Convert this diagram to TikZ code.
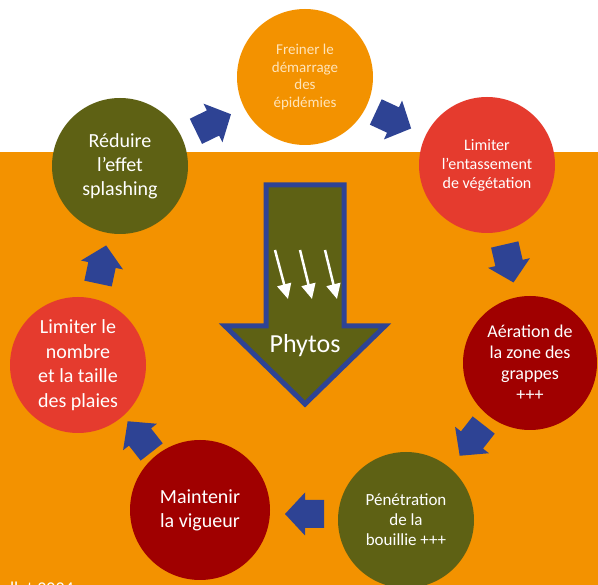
\documentclass[tikz,border=0pt]{standalone}
\usepackage{fontspec}
\setmainfont{Carlito}
\usetikzlibrary{arrows.meta}
\definecolor{orbg}{RGB}{243,146,0}
\definecolor{redc}{RGB}{229,59,46}
\definecolor{darkred}{RGB}{160,0,0}
\definecolor{olive}{RGB}{94,97,20}
\definecolor{blueA}{RGB}{46,67,148}
\definecolor{cream}{RGB}{255,228,185}
\tikzset{
  stepcirc/.style={circle, minimum size=136pt, inner sep=0pt, align=center, text=white},
  blockarrow/.pic={\fill[blueA] (20,0) -- (0,21.5) -- (0,14) -- (-19,14) -- (-19,-14) -- (0,-14) -- (0,-21.5) -- cycle;},
  rainarrow/.style={white, line width=2.5pt, -{Triangle[width=14pt,length=15pt]}}
}
\begin{document}
\begin{tikzpicture}[x=1pt,y=-1pt]
\clip (0,0) rectangle (598,585);
\fill[white] (0,0) rectangle (598,152);
\fill[orbg] (0,152) rectangle (598,585);

% circles
\node[stepcirc, fill=orbg, text=cream, font=\fontsize{15}{17.5}\selectfont] (c1) at (305,77) {Freiner le\\démarrage\\des\\épidémies};
\node[stepcirc, fill=redc, font=\fontsize{16}{19}\selectfont] (c2) at (487,165) {Limiter\\l’entassement\\de végétation};
\node[stepcirc, minimum size=134pt, fill=darkred, font=\fontsize{18}{21}\selectfont] (c3) at (530,363) {Aération de\\la zone des\\grappes\\+++};
\node[stepcirc, fill=olive, font=\fontsize{17}{20}\selectfont] (c4) at (406,520) {Pénétration\\de la\\bouillie +++};
\node[stepcirc, minimum size=140pt, fill=darkred, font=\fontsize{20}{24}\selectfont] (c5) at (200,510) {Maintenir\\la vigueur};
\node[stepcirc, fill=redc, font=\fontsize{20}{24.5}\selectfont] (c6) at (78,365) {Limiter le\\nombre\\et la taille\\des plaies};
\node[stepcirc, fill=olive, font=\fontsize{20}{24}\selectfont] (c7) at (120,166) {Réduire\\l’effet\\splashing};

% block arrows
\pic[rotate=26] at (213,123) {blockarrow};
\pic[rotate=-25] at (393,120) {blockarrow};
\pic[rotate=-77] at (509,263) {blockarrow};
\pic[rotate=-128] at (472,440) {blockarrow};
\pic[rotate=180] at (305,514) {blockarrow};
\pic[rotate=128] at (140,437) {blockarrow};
\pic[rotate=78] at (102,265) {blockarrow};

% big arrow
\draw[blueA, line width=5pt, line join=miter, fill=olive] (266,185) -- (344,185) -- (344,326) -- (385,326) -- (305,404) -- (225,326) -- (266,326) -- cycle;
\node[text=white, font=\fontsize{26}{30}\selectfont] (ph) at (305,346) {Phytos};
\coordinate (w1a) at (275,250); \coordinate (w1b) at (288,299);
\coordinate (w2a) at (300,250); \coordinate (w2b) at (312,299);
\coordinate (w3a) at (325,250); \coordinate (w3b) at (337,299);
\draw[rainarrow] (w1a) -- (w1b);
\draw[rainarrow] (w2a) -- (w2b);
\draw[rainarrow] (w3a) -- (w3b);

% source
\node[anchor=north east, inner sep=0pt, text=white, font=\fontsize{18}{21}\selectfont] (src) at (74,582) {llet 2024};
\end{tikzpicture}
\end{document}
